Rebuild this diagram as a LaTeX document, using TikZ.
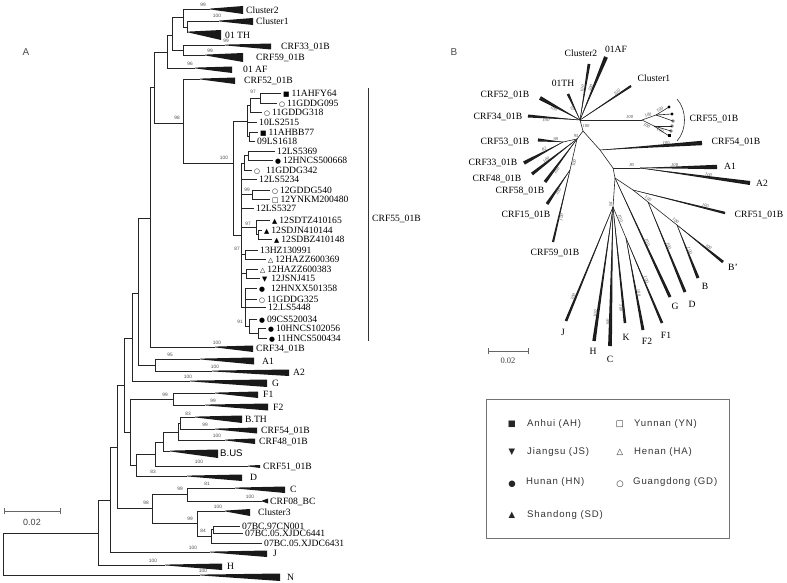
\documentclass[tikz,border=0pt]{standalone}
\usepackage{fontspec}
\setmainfont{Liberation Serif}
\setsansfont{Liberation Sans}
\newfontfamily\symfont{DejaVu Sans}
\newfontfamily\legfont[LetterSpace=9]{Liberation Sans}
\usetikzlibrary{calc}

\tikzset{
  br/.style={line width=0.8pt, draw=black!85},
  elbow/.style={br, to path={|- (\tikztotarget)}},
  bl/.style={line width=0.6pt, draw=black!85},
  tip/.style={anchor=west, inner sep=0pt, font=\fontsize{9.6}{10}\selectfont, text height=6.4pt, text depth=0pt},
  ulab/.style={inner sep=0pt, font=\fontsize{9.6}{10}\selectfont},
  bs/.style={inner sep=0pt, font=\sffamily\fontsize{4.8}{5}\selectfont, text=black!70},
  bsb/.style={inner sep=0.7pt, font=\fontsize{4.6}{5}\selectfont\itshape, text=black!70},
  leg/.style={anchor=west, inner sep=0pt, font=\legfont\fontsize{9.6}{10}\selectfont, text=black!80},
  legsym/.style={inner sep=0pt, font=\symfont\fontsize{8.5}{8.5}\selectfont, text=black!85},
  panel/.style={inner sep=0pt, font=\sffamily\fontsize{10}{10}\selectfont, text=black!70},
}

% marker glyph in a leaf label
\newcommand{\mk}[1]{{\symfont\fontsize{6.8}{6.8}\selectfont #1}}
% collapsed clade: name, apex x, y, base x, up, down, label x, label
\newcommand{\clade}[8]{%
  \coordinate (#1) at (#2,#3);
  \fill[black!90] (#2,{#3-0.4}) -- (#4,{#3-#5}) -- (#4,{#3+#6}) -- (#2,{#3+0.4}) -- cycle;
  \node[tip] (#1-t) at (#7,{#3+(#6-#5)/2}) {#8};
}
% single taxon: name, end x, y, label
\newcommand{\leaf}[4]{%
  \coordinate (#1) at (#2,#3);
  \node[tip] (#1-t) at ({#2+2},#3) {#4};
}
% thickening branch of the unrooted tree
\newcommand{\spoke}[3]{%
  \fill[black!90] (#1) -- ($(#2)!#3!90:(#1)$) -- ($(#2)!#3!-90:(#1)$) -- cycle;
}

\begin{document}
\begin{tikzpicture}[x=1pt,y=-1pt]
\useasboundingbox (0,0) rectangle (787,583);

\node[panel] (pA) at (26,52) {A};
\node[panel] (pB) at (454,52) {B};

% Tree A: internal nodes
\coordinate (root) at (3,554);
\coordinate (nA15) at (98,533);
\coordinate (nA14) at (110,500);
\coordinate (nA13) at (117,447);
\coordinate (nA12) at (124,385);
\coordinate (nA10) at (132,338);
\coordinate (nA9) at (138,293);
\coordinate (nA8) at (150,218);
\coordinate (nA7) at (154,87);
\coordinate (nA5) at (167,52);
\coordinate (nA4) at (172,35);
\coordinate (nA1) at (183,17);
\coordinate (nA2) at (187,27);
\coordinate (nA3) at (183,50);
\coordinate (nA6) at (183,123);
\coordinate (nAA) at (155,365);
\coordinate (nA11) at (130,432);
\coordinate (nAF) at (173,399);
\coordinate (nAB5) at (136,465);
\coordinate (nAB4) at (155,454);
\coordinate (nAB3) at (163,442);
\coordinate (nAB2) at (178,432);
\coordinate (nAB1) at (180,423);
\coordinate (nC0) at (152,508);
\coordinate (nC1) at (187,494);
\coordinate (nC2) at (197,523);
\coordinate (nC4) at (211,536);
\coordinate (nC3) at (213,529.5);
\coordinate (nC) at (233,163);
\coordinate (s1a) at (260,98);
\coordinate (s1b) at (250,105);
\coordinate (s1d) at (249,136);
\coordinate (s1c) at (247,121);
\coordinate (s2a) at (248,155);
\coordinate (s2b) at (244,163);
\coordinate (s2c) at (252,194);
\coordinate (s2e) at (258,234);
\coordinate (s2d) at (256,227);
\coordinate (s2f) at (245,254);
\coordinate (s2g) at (246,273);
\coordinate (s2j) at (258,333);
\coordinate (s2i) at (249,326);
\coordinate (s2h) at (245,307);
\coordinate (s2) at (241,235);

% Tree A: collapsed clades
\clade{cl2}{210}{9}{243}{3}{5}{246}{Cluster2}
\clade{cl1}{219}{21}{253}{3}{4}{256}{Cluster1}
\clade{th01}{188}{32}{221}{2}{8}{225}{01 TH}
\clade{crf33}{225}{45}{271}{1.5}{4.5}{281}{CRF33\_01B}
\clade{crf59}{205}{55}{243}{2}{7}{256}{CRF59\_01B}
\clade{af01}{195}{68}{232}{1.5}{5}{243}{01 AF}
\clade{crf52}{200}{79}{235}{1.5}{5}{244}{CRF52\_01B}
\clade{crf34}{215}{347}{253}{1.5}{5}{256}{CRF34\_01B}
\clade{a1}{200}{359}{254}{1.5}{5.5}{262}{A1}
\clade{a2}{212}{371}{289}{1.5}{5}{293}{A2}
\clade{g}{190}{381}{267}{1.5}{6}{272}{G}
\clade{f1}{215}{393}{258}{1.5}{5}{263}{F1}
\clade{f2}{205}{405}{268}{1.5}{5.5}{273}{F2}
\clade{bth}{195}{417}{242}{1.5}{6}{245}{B.TH}
\clade{crf54}{215}{429}{257}{1.5}{4.5}{261}{CRF54\_01B}
\clade{crf48}{225}{440}{255}{1.5}{4}{259}{CRF48\_01B}
\clade{bus}{170}{451}{218}{1.5}{7}{220}{\sffamily B.US}
\clade{crf51}{248}{466}{260}{1}{2}{263}{CRF51\_01B}
\clade{d}{187}{476}{242}{1.5}{5}{250}{D}
\clade{c}{235}{488}{285}{1.5}{5}{290}{C}
\clade{crf08}{262}{501}{268}{2.5}{2.5}{270}{CRF08\_BC}
\clade{cl3}{225}{511}{250}{2}{5}{258}{Cluster3}
\clade{j}{210}{552}{267}{1.5}{5}{273}{J}
\clade{h}{165}{565}{222}{1.5}{5}{227}{H}
\clade{n}{200}{575}{280}{1.5}{6}{287}{N}

% Tree A: single taxa
\leaf{bc1}{240}{526}{07BC.97CN001}
\leaf{bc2}{243}{533}{07BC.05.XJDC6441}
\leaf{bc3}{262}{543}{07BC.05.XJDC6431}
\leaf{L1}{281}{93}{\mk{■}\hspace{2pt}11AHFY64}
\leaf{L2}{277}{103}{\mk{○}\hspace{2pt}11GDDG095}
\leaf{L3}{262}{112}{\mk{○}\hspace{2pt}11GDDG318}
\leaf{L4}{257}{122}{10LS2515}
\leaf{L5}{258}{132}{\mk{■}\hspace{2pt}11AHBB77}
\leaf{L6}{255}{141}{09LS1618}
\leaf{L7}{275}{151}{12LS5369}
\leaf{L8}{273}{160}{\mk{●}\hspace{2pt}12HNCS500668}
\leaf{L9}{252}{170}{\mk{○}\hspace{6pt}11GDDG342}
\leaf{L10}{257}{179}{12LS5234}
\leaf{L11}{270}{190}{\mk{○}\hspace{2pt}12GDDG540}
\leaf{L12}{270}{199}{\mk{□}\hspace{2pt}12YNKM200480}
\leaf{L13}{254}{208}{12LS5327}
\leaf{L14}{270}{220}{\mk{▲}\hspace{2pt}12SDTZ410165}
\leaf{L15}{262}{230}{\mk{▲}\hspace{2pt}12SDJN410144}
\leaf{L16}{272}{239}{\mk{▲}\hspace{2pt}12SDBZ410148}
\leaf{L17}{258}{250}{13HZ130991}
\leaf{L18}{266}{259}{\mk{△}\hspace{2pt}12HAZZ600369}
\leaf{L19}{258}{269}{\mk{△}\hspace{2pt}12HAZZ600383}
\leaf{L20}{260}{278}{\mk{▼}\hspace{4pt}12JSNJ415}
\leaf{L21}{257}{288}{\mk{●}\hspace{6pt}12HNXX501358}
\leaf{L22}{257}{299}{\mk{○}\hspace{2pt}11GDDG325}
\leaf{L23}{266}{307}{12.LS5448}
\leaf{L24}{257}{319}{\mk{●}\hspace{2pt}09CS520034}
\leaf{L25}{266}{328}{\mk{●}\hspace{2pt}10HNCS102056}
\leaf{L26}{267}{338}{\mk{●}\hspace{2pt}11HNCS500434}

% Tree A: branches
\path
(root) edge[elbow] (nA15)  (root) edge[elbow] (n)
(nA15) edge[elbow] (nA14)  (nA15) edge[elbow] (h)
(nA14) edge[elbow] (nA13)  (nA14) edge[elbow] (j)
(nA13) edge[elbow] (nA12)  (nA13) edge[elbow] (nC0)
(nA12) edge[elbow] (nA10)  (nA12) edge[elbow] (nA11)
(nA10) edge[elbow] (nA9)   (nA10) edge[elbow] (g)
(nA9) edge[elbow] (nA8)    (nA9) edge[elbow] (nAA)
(nAA) edge[elbow] (a1)     (nAA) edge[elbow] (a2)
(nA8) edge[elbow] (nA7)    (nA8) edge[elbow] (crf34)
(nA7) edge[elbow] (nA5)    (nA7) edge[elbow] (nA6)
(nA5) edge[elbow] (nA4)    (nA5) edge[elbow] (af01)
(nA4) edge[elbow] (nA1)    (nA4) edge[elbow] (nA3)
(nA1) edge[elbow] (cl2)    (nA1) edge[elbow] (nA2)
(nA2) edge[elbow] (cl1)    (nA2) edge[elbow] (th01)
(nA3) edge[elbow] (crf33)  (nA3) edge[elbow] (crf59)
(nA6) edge[elbow] (crf52)  (nA6) edge[elbow] (nC)
(nA11) edge[elbow] (nAF)   (nA11) edge[elbow] (nAB5)
(nAF) edge[elbow] (f1)     (nAF) edge[elbow] (f2)
(nAB5) edge[elbow] (nAB4)  (nAB5) edge[elbow] (d)
(nAB4) edge[elbow] (nAB3)  (nAB4) edge[elbow] (crf51)
(nAB3) edge[elbow] (nAB2)  (nAB3) edge[elbow] (bus)
(nAB2) edge[elbow] (nAB1)  (nAB2) edge[elbow] (crf48)
(nAB1) edge[elbow] (bth)   (nAB1) edge[elbow] (crf54)
(nC0) edge[elbow] (nC1)    (nC0) edge[elbow] (nC2)
(nC1) edge[elbow] (c)      (nC1) edge[elbow] (crf08)
(nC2) edge[elbow] (cl3)    (nC2) edge[elbow] (nC4)
(nC4) edge[elbow] (nC3)    (nC4) edge[elbow] (bc3)
(nC3) edge[elbow] (bc1)    (nC3) edge[elbow] (bc2)
(nC) edge[elbow] (s1c)     (nC) edge[elbow] (s2)
(s1c) edge[elbow] (s1b)    (s1c) edge[elbow] (L4)   (s1c) edge[elbow] (s1d)
(s1b) edge[elbow] (s1a)    (s1b) edge[elbow] (L3)
(s1a) edge[elbow] (L1)     (s1a) edge[elbow] (L2)
(s1d) edge[elbow] (L5)     (s1d) edge[elbow] (L6)
(s2) edge[elbow] (s2b)     (s2) edge[elbow] (L10)   (s2) edge[elbow] (s2c)
(s2) edge[elbow] (L13)     (s2) edge[elbow] (s2d)   (s2) edge[elbow] (s2f)
(s2) edge[elbow] (s2g)     (s2) edge[elbow] (s2h)
(s2b) edge[elbow] (s2a)    (s2b) edge[elbow] (L9)
(s2a) edge[elbow] (L7)     (s2a) edge[elbow] (L8)
(s2c) edge[elbow] (L11)    (s2c) edge[elbow] (L12)
(s2d) edge[elbow] (L14)    (s2d) edge[elbow] (s2e)
(s2e) edge[elbow] (L15)    (s2e) edge[elbow] (L16)
(s2f) edge[elbow] (L17)    (s2f) edge[elbow] (L18)
(s2g) edge[elbow] (L19)    (s2g) edge[elbow] (L20)
(s2h) edge[elbow] (L21)    (s2h) edge[elbow] (L22)  (s2h) edge[elbow] (L23)
(s2h) edge[elbow] (s2i)
(s2i) edge[elbow] (L24)    (s2i) edge[elbow] (s2j)
(s2j) edge[elbow] (L25)    (s2j) edge[elbow] (L26);

% Tree A: bootstrap values
\node[bs] (bsl1) at (203,5) {99};
\node[bs] (bsl2) at (217,16) {100};
\node[bs] (bsl3) at (226,41) {99};
\node[bs] (bsl4) at (210,51) {99};
\node[bs] (bsl5) at (190,64) {96};
\node[bs] (bsl6) at (177,118) {98};
\node[bs] (bsl7) at (253,92) {97};
\node[bs] (bsl8) at (224,158) {100};
\node[bs] (bsl9) at (247,190) {99};
\node[bs] (bsl10) at (248,224) {97};
\node[bs] (bsl11) at (237,249) {87};
\node[bs] (bsl12) at (240,322) {91};
\node[bs] (bsl13) at (217,343) {100};
\node[bs] (bsl14) at (170,355) {95};
\node[bs] (bsl15) at (215,367) {100};
\node[bs] (bsl16) at (188,377) {100};
\node[bs] (bsl17) at (165,395) {99};
\node[bs] (bsl18) at (213,401) {99};
\node[bs] (bsl19) at (188,414) {83};
\node[bs] (bsl20) at (205,425) {99};
\node[bs] (bsl21) at (217,436) {100};
\node[bs] (bsl22) at (199,462) {100};
\node[bs] (bsl23) at (153,472) {83};
\node[bs] (bsl24) at (180,489) {99};
\node[bs] (bsl25) at (207,484) {81};
\node[bs] (bsl26) at (250,497) {100};
\node[bs] (bsl27) at (146,503) {98};
\node[bs] (bsl28) at (218,507) {100};
\node[bs] (bsl29) at (190,519) {99};
\node[bs] (bsl30) at (203,531) {84};
\node[bs] (bsl31) at (193,548) {100};
\node[bs] (bsl32) at (153,561) {100};
\node[bs] (bsl33) at (203,571) {100};

% CRF55 bracket and scale
\coordinate (bt55) at (368,88);
\coordinate (bb55) at (368,341);
\draw[black!80, line width=0.7pt] (bt55) -- (bb55);
\node[tip] (l55) at (372,218) {CRF55\_01B};
\coordinate (sa1) at (4,511);
\coordinate (sa2) at (60,511);
\draw[black!60, line width=0.6pt] (sa1) -- (sa2)
  ([yshift=3pt]sa1) -- ([yshift=-3pt]sa1) ([yshift=3pt]sa2) -- ([yshift=-3pt]sa2);
\node[inner sep=0pt, font=\sffamily\fontsize{9}{9}\selectfont, text=black!75] (sal) at (32,522) {0.02};

% Tree B: nodes
\coordinate (uh1) at (580,120);
\coordinate (uh2) at (583,131);
\coordinate (uh3) at (577,139);
\coordinate (uh4) at (563,142);
\coordinate (uh5) at (570,170);
\coordinate (un1) at (600,150);
\coordinate (unA) at (613,168);
\coordinate (unAa) at (640,168);
\coordinate (un2) at (615,178);
\coordinate (un3) at (633,190);
\coordinate (un4) at (648,202);
\coordinate (un5) at (677,225);
\coordinate (un6) at (613,207);
\coordinate (unF) at (626,238);
\coordinate (uc55) at (642,120);
\coordinate (uc55a) at (656,115);
\coordinate (uc55b) at (654,126);

% Tree B: tips
\coordinate (tCl2) at (589,64);
\coordinate (tAF) at (606,57);
\coordinate (tTH) at (568,94);
\coordinate (tCl1) at (631,86);
\coordinate (t52) at (540,98);
\coordinate (t34) at (528,116);
\coordinate (t53) at (538,140);
\coordinate (t33) at (524,163);
\coordinate (t48) at (532,174);
\coordinate (t58) at (545,182);
\coordinate (t15) at (547,204);
\coordinate (t59) at (553,242);
\coordinate (t54) at (702,143);
\coordinate (tA1) at (717,167);
\coordinate (tA2) at (750,183);
\coordinate (t51) at (725,213);
\coordinate (tBp) at (723,262);
\coordinate (tB) at (698,278);
\coordinate (tD) at (685,292);
\coordinate (tG) at (670,297);
\coordinate (tF1) at (662,323);
\coordinate (tF2) at (643,330);
\coordinate (tK) at (625,323);
\coordinate (tC) at (610,346);
\coordinate (tH) at (594,341);
\coordinate (tJ) at (566,321);
\coordinate (t55a) at (669,107);
\coordinate (t55b) at (672,114);
\coordinate (t55c) at (673,121);
\coordinate (t55d) at (672,126);
\coordinate (t55e) at (671,131);
\coordinate (t55f) at (669,136);

% Tree B: wedges
\spoke{uh1}{tCl2}{1.4pt}
\spoke{uh1}{tAF}{2pt}
\spoke{uh1}{tTH}{1.3pt}
\spoke{uh1}{tCl1}{1.1pt}
\spoke{uh1}{t52}{2pt}
\spoke{uh1}{t34}{1.5pt}
\spoke{uh4}{t53}{1.6pt}
\spoke{uh4}{t33}{1.8pt}
\spoke{uh3}{t48}{1.6pt}
\spoke{uh3}{t58}{1.6pt}
\spoke{uh5}{t15}{1.6pt}
\spoke{uh5}{t59}{1.1pt}
\spoke{un1}{t54}{2.2pt}
\spoke{unAa}{tA1}{2.2pt}
\spoke{unAa}{tA2}{2pt}
\spoke{un3}{t51}{1.2pt}
\spoke{un5}{tBp}{1.4pt}
\spoke{un5}{tB}{1.5pt}
\spoke{un4}{tD}{1.5pt}
\spoke{un2}{tG}{1.5pt}
\spoke{unF}{tF1}{1.3pt}
\spoke{unF}{tF2}{1.5pt}
\spoke{un6}{tK}{1.3pt}
\spoke{un6}{tC}{1.9pt}
\spoke{un6}{tH}{1.7pt}
\spoke{un6}{tJ}{1.3pt}

% Tree B: branches
\path
(uh1) edge[bl] node[bsb,sloped,above,pos=.55] {100} (tCl2)
(uh1) edge[bl] node[bsb,sloped,above,pos=.5] {100} (tAF)
(uh1) edge[bl] node[bsb,sloped,below,pos=.45] {97} (tTH)
(uh1) edge[bl] node[bsb,sloped,above,pos=.75] {100} (tCl1)
(uh1) edge[bl] node[bsb,sloped,below,pos=.62] {100} (t52)
(uh1) edge[bl] node[bsb,sloped,below,pos=.65] {100} (t34)
(uh1) edge[bl] node[bsb,right,pos=.5] {100} (uh2)
(uh1) edge[bl] node[bsb,above,pos=.8] {100} (uc55)
(uc55) edge[bl] node[bsb,sloped,above] {100} (uc55a)
(uc55) edge[bl] node[bsb,sloped,below] {100} (uc55b)
(uc55a) edge[bl] node[bsb,sloped,above,pos=.4] {100} (t55a)
(uc55a) edge[bl] (t55b)
(uc55a) edge[bl] (t55c)
(uc55b) edge[bl] (t55d)
(uc55b) edge[bl] node[bsb,sloped,below,pos=.4] {100} (t55e)
(uc55b) edge[bl] (t55f)
(uh2) edge[bl] node[bsb,left,pos=.6] {95} (uh3)
(uh3) edge[bl] (uh4)
(uh4) edge[bl] node[bsb,sloped,above,pos=.3] {98} (t53)
(uh4) edge[bl] node[bsb,sloped,above,pos=.45] {82} (t33)
(uh3) edge[bl] node[bsb,sloped,above,pos=.65] {100} (t48)
(uh3) edge[bl] node[bsb,sloped,below,pos=.7] {100} (t58)
(uh3) edge[bl] node[bsb,sloped,below,pos=.75] {100} (uh5)
(uh5) edge[bl] node[bsb,sloped,below,pos=.6] {100} (t15)
(uh5) edge[bl] node[bsb,sloped,below,pos=.65] {100} (t59)
(uh2) edge[bl] (un1)
(un1) edge[bl] node[bsb,sloped,above,pos=.65] {100} (t54)
(un1) edge[bl] (unA)
(unA) edge[bl] node[bsb,above,pos=.7] {85} (unAa)
(unAa) edge[bl] node[bsb,sloped,above,pos=.45] {100} (tA1)
(unAa) edge[bl] node[bsb,sloped,above,pos=.62] {100} (tA2)
(unA) edge[bl] (un2)
(un2) edge[bl] (un3)
(un3) edge[bl] node[bsb,sloped,above,pos=.78] {100} (t51)
(un3) edge[bl] node[bsb,sloped,above,pos=.9] {100} (un4)
(un4) edge[bl] node[bsb,sloped,above,pos=.9] {100} (un5)
(un5) edge[bl] node[bsb,sloped,above,pos=.65] {100} (tBp)
(un5) edge[bl] node[bsb,sloped,above,pos=.5] {100} (tB)
(un4) edge[bl] node[bsb,sloped,above,pos=.5] {100} (tD)
(un2) edge[bl] node[bsb,sloped,above,pos=.55] {100} (tG)
(un2) edge[bl] node[bsb,sloped,above,pos=.9] {94} (un6)
(un6) edge[bl] node[bsb,sloped,above,pos=.8] {100} (tJ)
(un6) edge[bl] node[bsb,sloped,above,pos=.8] {100} (tH)
(un6) edge[bl] node[bsb,sloped,above,pos=.83] {100} (tC)
(un6) edge[bl] node[bsb,sloped,below,pos=.87] {100} (tK)
(un6) edge[bl] node[bsb,sloped,above,pos=.4] {100} (unF)
(unF) edge[bl] node[bsb,sloped,above,pos=.6] {100} (tF2)
(unF) edge[bl] node[bsb,sloped,above,pos=.5] {100} (tF1);

% CRF55 tips
\fill (t55a) circle (1.6);
\fill (t55b) circle (1.6);
\draw[line width=0.4pt] (t55c) circle (1.3);
\draw[line width=0.4pt] (t55d) circle (1.3);
\draw[line width=0.4pt] (t55e) circle (1.3);
\fill ($(t55f)+(-1.5,-1.5)$) rectangle ++(3,3);
\coordinate (ubrt) at (677,99);
\coordinate (ubrb) at (677,141);
\draw[bl] (ubrt) .. controls (687,110) and (687,130) .. (ubrb);

% Tree B: labels
\node[ulab] (lCl2) at (581,53) {Cluster2};
\node[ulab] (lAF) at (616,49) {01AF};
\node[ulab] (lTH) at (563,83) {01TH};
\node[ulab] (lCl1) at (654,78) {Cluster1};
\node[ulab] (l52) at (505,95) {CRF52\_01B};
\node[ulab] (l34) at (498,117) {CRF34\_01B};
\node[ulab] (l53) at (505,142) {CRF53\_01B};
\node[ulab] (l33) at (493,163) {CRF33\_01B};
\node[ulab] (l48) at (497,179) {CRF48\_01B};
\node[ulab] (l58) at (520,191) {CRF58\_01B};
\node[ulab] (l15) at (526,215) {CRF15\_01B};
\node[ulab] (l59) at (555,253) {CRF59\_01B};
\node[ulab] (lu55) at (714,119) {CRF55\_01B};
\node[ulab] (l54) at (736,142) {CRF54\_01B};
\node[ulab] (lA1) at (730,166) {A1};
\node[ulab] (lA2) at (762,183) {A2};
\node[ulab] (l51) at (759,215) {CRF51\_01B};
\node[ulab] (lBp) at (733,267) {B'};
\node[ulab] (lB) at (705,286) {B};
\node[ulab] (lD) at (692,304) {D};
\node[ulab] (lG) at (675,306) {G};
\node[ulab] (lF1) at (666,335) {F1};
\node[ulab] (lF2) at (647,341) {F2};
\node[ulab] (lK) at (626,337) {K};
\node[ulab] (lC) at (610,359) {C};
\node[ulab] (lH) at (593,351) {H};
\node[ulab] (lJ) at (563,332) {J};

% Tree B: scale
\coordinate (usb1) at (488,351);
\coordinate (usb2) at (528,351);
\draw[black!60, line width=0.6pt] (usb1) -- (usb2)
  ([yshift=3pt]usb1) -- ([yshift=-3pt]usb1) ([yshift=3pt]usb2) -- ([yshift=-3pt]usb2);
\node[ulab, text=black!75, font=\fontsize{8.5}{9}\selectfont] (usbl) at (508,361) {0.02};

% Legend
\coordinate (lgA) at (486,399);
\coordinate (lgB) at (729,538);
\draw[black!55, line width=0.6pt] (lgA) rectangle (lgB);
\node[legsym] (sAH) at (512,424) {■};
\node[leg] (tAH) at (527,424) {Anhui (AH)};
\node[legsym] (sYN) at (620,424) {□};
\node[leg] (tYN) at (634,424) {Yunnan (YN)};
\node[legsym] (sJS) at (512,452) {▼};
\node[leg] (tJS) at (527,452) {Jiangsu (JS)};
\node[legsym] (sHA) at (620,452) {△};
\node[leg] (tHA) at (634,452) {Henan (HA)};
\node[legsym] (sHN) at (512,484) {●};
\node[leg] (tHN) at (526,482) {Hunan (HN)};
\node[legsym] (sGD) at (620,484) {○};
\node[leg] (tGD) at (633,482) {Guangdong (GD)};
\node[legsym] (sSD) at (512,515) {▲};
\node[leg] (tSD) at (527,515) {Shandong (SD)};

\end{tikzpicture}
\end{document}
